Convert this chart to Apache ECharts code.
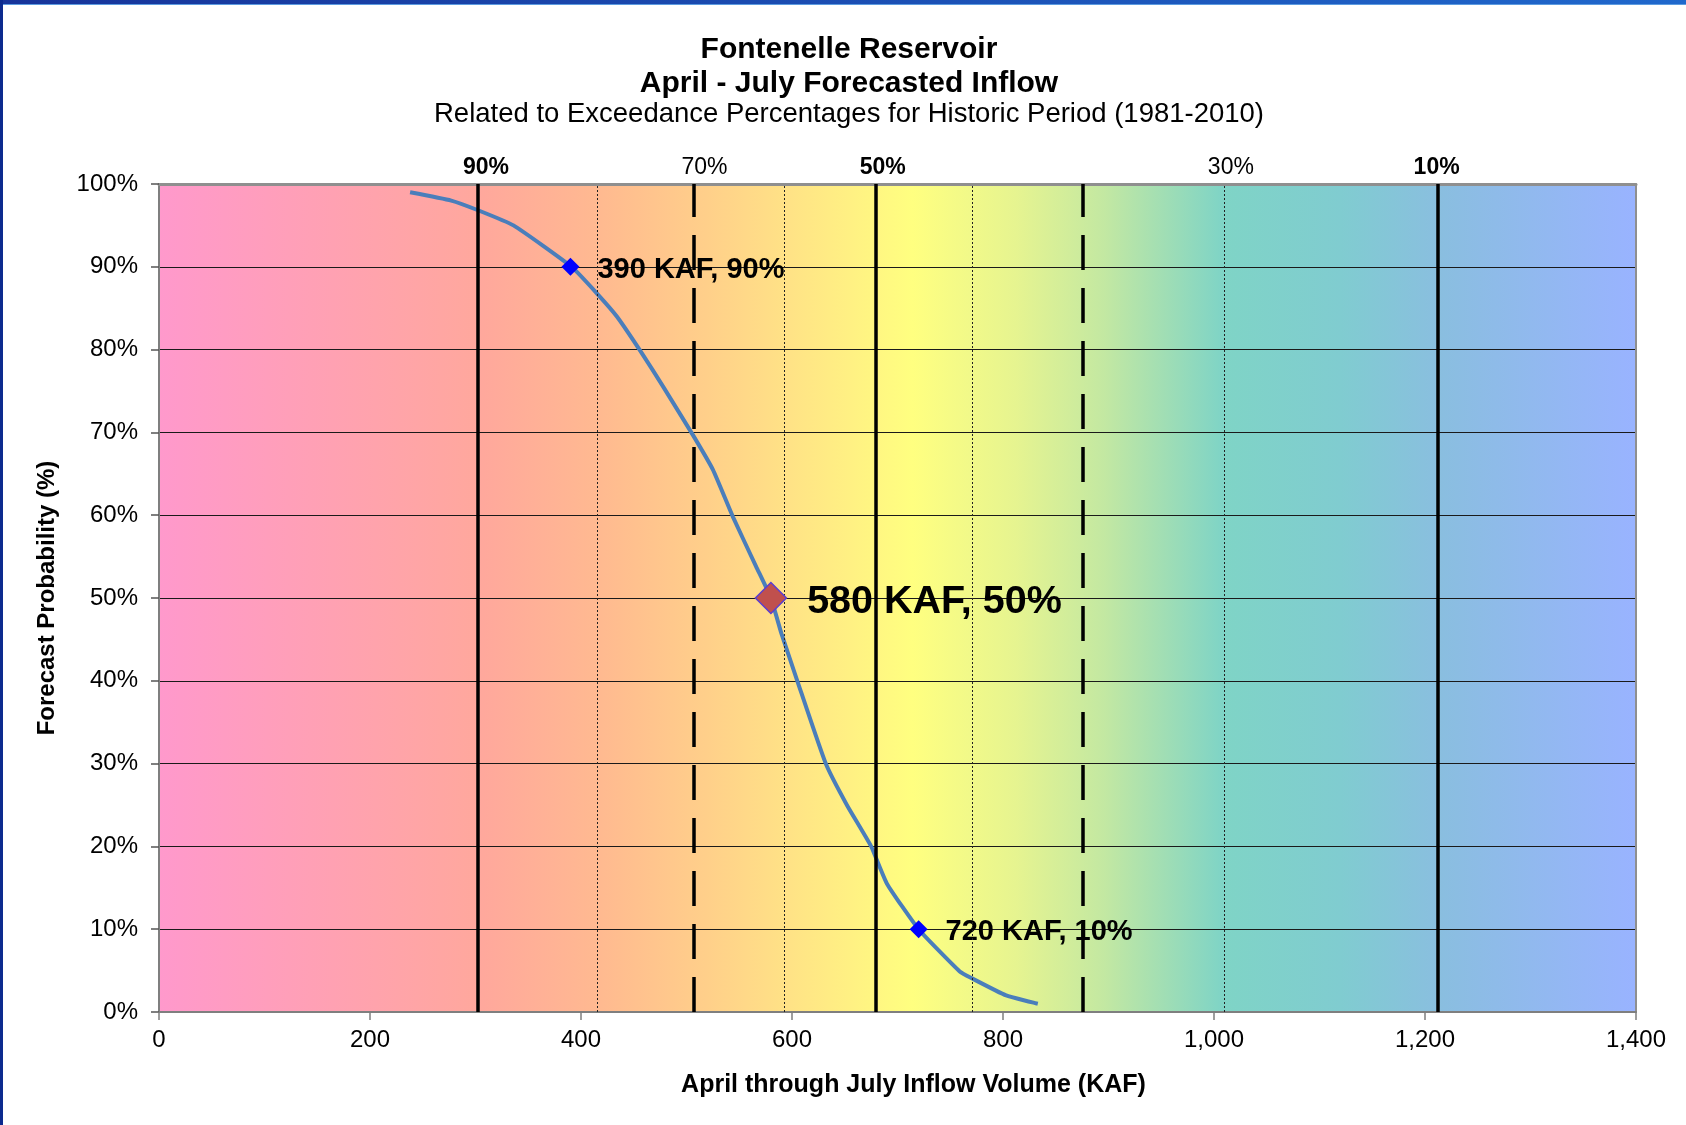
<!DOCTYPE html>
<html><head><meta charset="utf-8">
<script src="https://cdn.jsdelivr.net/npm/echarts@6/dist/echarts.min.js"></script>
<style>
html,body{margin:0;padding:0;background:#fff;overflow:hidden;}
#chart{width:1686px;height:1125px;}
#topband{position:absolute;left:0;top:0;width:1686px;height:4px;background:linear-gradient(to right,#17349A,#2068CC);border-bottom:1px solid #5C9BE0;}
#leftband{position:absolute;left:0;top:0;width:3px;height:1125px;background:#0C2A8E;}
</style></head>
<body><div id="chart"></div><div id="topband"></div><div id="leftband"></div>
<script>
// ---------- data ----------
const titleLines = ['Fontenelle Reservoir', 'April - July Forecasted Inflow', 'Related to Exceedance Percentages for Historic Period (1981-2010)'];
const xAxisName = 'April through July Inflow Volume (KAF)';
const yAxisName = 'Forecast Probability (%)';

const curveInflow = [238, 277, 303, 336, 391, 415, 434, 457, 478, 506, 525, 544, 566, 580, 590, 605, 632, 652, 675, 690, 720, 759, 770, 803, 833];
const curveProb   = [99, 98, 96.8, 95, 90, 86.8, 84, 79.7, 75.5, 69.7, 65.5, 59.8, 53.8, 50, 45.7, 40, 30, 25, 20, 15.5, 10, 4.9, 4.1, 2, 1];

const keyInflow = [390, 720];
const keyProb = [90, 10];
const medianInflow = [580];
const medianProb = [50];

const solidLines = [302, 679, 1212];
const dashedLines = [507, 876];
const dottedLines = [415, 593, 771, 1010];
const topLabelValues = [310, 517, 686, 1016, 1211];
const topLabelTexts = ['90%', '70%', '50%', '30%', '10%'];

// ---------- chart ----------
const FONT = '"Liberation Sans", Arial, sans-serif';
const BOLD_LABELS = new Set(['90%', '50%', '10%']);
const chart = echarts.init(document.getElementById('chart'), null, {renderer: 'canvas'});

function lineItems(values, style) {
  return values.map(v => ({xAxis: v, lineStyle: style, label: {show: false}}));
}
const labelItems = topLabelValues.map((v, i) => ({
  xAxis: v,
  lineStyle: {color: 'rgba(0,0,0,0)', width: 1, type: 'solid'},
  label: {
    show: true, position: 'end', formatter: topLabelTexts[i],
    fontWeight: BOLD_LABELS.has(topLabelTexts[i]) ? 'bold' : 'normal',
    fontSize: 23, color: '#000', fontFamily: FONT, distance: 5, opacity: 1
  }
}));

const bg = new echarts.graphic.LinearGradient(0, 0, 1, 0, [
  {offset: 0.00, color: '#FF99CC'},
  {offset: 0.22, color: '#FFA89C'},
  {offset: 0.30, color: '#FFBA90'},
  {offset: 0.37, color: '#FFCF8A'},
  {offset: 0.44, color: '#FFE785'},
  {offset: 0.51, color: '#FFFF80'},
  {offset: 0.58, color: '#E6F490'},
  {offset: 0.64, color: '#C3E8A2'},
  {offset: 0.72, color: '#7FD4C6'},
  {offset: 0.80, color: '#80CCD0'},
  {offset: 0.87, color: '#8ABEE0'},
  {offset: 1.00, color: '#99B3FF'}
]);

const titleTops = [35, 69, 100];
const titleSizes = [30, 30, 27.5];
const option = {
  animation: false,
  backgroundColor: '#fff',
  title: titleLines.map((t, i) => ({
    text: t, left: 849, top: titleTops[i], textAlign: 'center', padding: 0,
    textStyle: {fontFamily: FONT, fontSize: titleSizes[i], fontWeight: i < 2 ? 'bold' : 'normal', color: '#000'}
  })),
  grid: {left: 159, right: 50, top: 184, bottom: 113, show: true, backgroundColor: bg, borderWidth: 0},
  xAxis: [{
    type: 'value', min: 0, max: 1400, interval: 200, position: 'bottom',
    axisLine: {show: true, onZero: false, lineStyle: {color: '#7f7f7f', width: 2}},
    axisTick: {show: true, inside: false, length: 8, lineStyle: {color: '#7f7f7f', width: 1.5}},
    axisLabel: {fontFamily: FONT, fontSize: 24, color: '#000', margin: 16,
      formatter: v => v.toLocaleString('en-US')},
    splitLine: {show: false},
    name: xAxisName, nameLocation: 'middle', nameGap: 61,
    nameTextStyle: {fontFamily: FONT, fontSize: 25, fontWeight: 'bold', color: '#000', padding: [0, 0, 0, 32]}
  }, {
    type: 'value', min: 0, max: 1400, position: 'top',
    axisLine: {show: true, onZero: false, lineStyle: {color: '#8f8f8f', width: 3}},
    axisTick: {show: false}, axisLabel: {show: false}, splitLine: {show: false}
  }],
  yAxis: [{
    type: 'value', min: 0, max: 100, interval: 10,
    axisLine: {show: true, onZero: false, lineStyle: {color: '#7f7f7f', width: 2}},
    axisTick: {show: true, inside: false, length: 8, lineStyle: {color: '#555', width: 1.5}},
    axisLabel: {fontFamily: FONT, fontSize: 24, color: '#000', margin: 21, formatter: '{value}%', padding: [4, 0, 0, 0]},
    splitLine: {show: true, lineStyle: {color: '#1a1a1a', width: 1.2}},
    name: yAxisName, nameLocation: 'middle', nameGap: 100,
    nameTextStyle: {fontFamily: FONT, fontSize: 24, fontWeight: 'bold', color: '#000'}
  }, {
    type: 'value', min: 0, max: 100, position: 'right',
    axisLine: {show: true, onZero: false, lineStyle: {color: '#8f8f8f', width: 2}},
    axisTick: {show: false}, axisLabel: {show: false}, splitLine: {show: false}
  }],
  series: [
    {
      name: 'refLines', type: 'line', data: [], z: 1, silent: true,
      markLine: {
        silent: true, symbol: 'none', animation: false,
        data: [].concat(
          lineItems(dottedLines, {color: '#222', width: 1, type: [2, 2]}),
          lineItems(dashedLines, {color: '#000', width: 3.5, type: [35, 18]}),
          lineItems(solidLines, {color: '#000', width: 3.5, type: 'solid'}),
          labelItems
        )
      }
    },
    {
      name: 'forecast', type: 'line', z: 3,
      data: curveInflow.map((x, i) => [x, curveProb[i]]),
      showSymbol: false, smooth: 0.15,
      lineStyle: {color: '#4A7EBB', width: 4}
    },
    {
      name: 'key', type: 'scatter', z: 4,
      data: keyInflow.map((x, i) => [x, keyProb[i]]),
      symbol: 'diamond', symbolSize: 18,
      itemStyle: {color: '#0000FF', opacity: 1},
      label: {show: true, position: 'right', distance: 18, offset: [0, 3], fontFamily: FONT, fontSize: 29, fontWeight: 'bold', color: '#000', opacity: 1,
        formatter: p => p.value[0] + ' KAF, ' + p.value[1] + '%'}
    },
    {
      name: 'median', type: 'scatter', z: 5,
      data: medianInflow.map((x, i) => [x, medianProb[i]]),
      symbol: 'diamond', symbolSize: 31,
      itemStyle: {color: '#C0504D', borderColor: '#5B3FD0', borderWidth: 1.5, opacity: 1},
      label: {show: true, position: 'right', distance: 20, offset: [0, 4], fontFamily: FONT, fontSize: 39.5, fontWeight: 'bold', color: '#000', opacity: 1,
        formatter: p => p.value[0] + ' KAF, ' + p.value[1] + '%'}
    }
  ]
};
chart.setOption(option);
</script>
</body></html>
